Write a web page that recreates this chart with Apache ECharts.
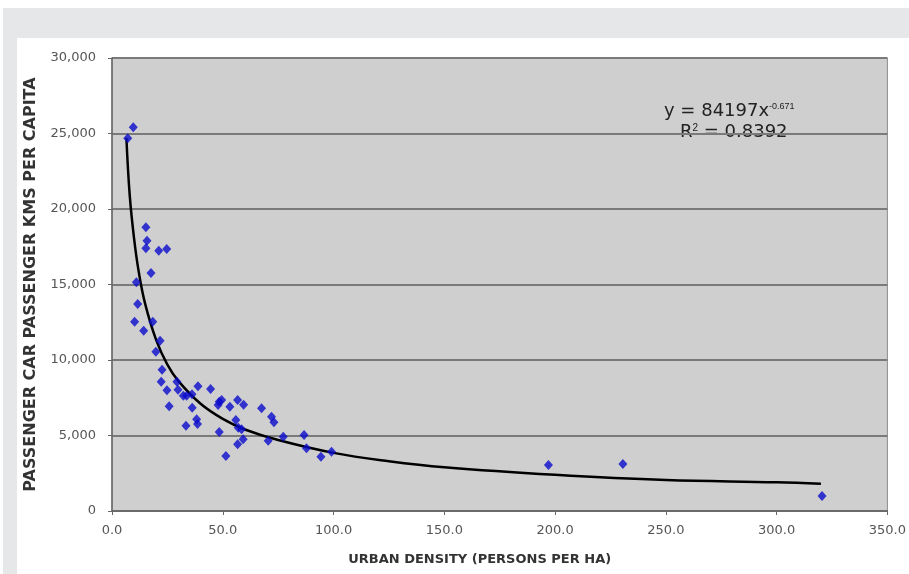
<!DOCTYPE html>
<html>
<head>
<meta charset="utf-8">
<script src="https://cdn.jsdelivr.net/npm/echarts@6/dist/echarts.min.js"></script>
<style>
  html, body { margin: 0; padding: 0; background: #fff; }
  #chart { width: 909px; height: 574px; }
</style>
</head>
<body>
<div id="chart"></div>
<script>
// urban density (persons per ha) vs passenger car kms per capita
const density = [7.1, 9.6, 15.3, 15.8, 15.3, 21.1, 24.7, 17.6, 11.0, 11.6,
  10.2, 18.4, 14.3, 21.7, 19.8, 22.6, 22.2, 24.8, 29.3, 29.8,
  32.2, 33.7, 36.1, 38.8, 25.8, 36.2, 38.2, 38.6, 33.4, 44.5,
  48.4, 49.5, 47.9, 53.2, 56.7, 59.4, 48.4, 51.4, 55.9, 57.0,
  58.5, 59.2, 56.7, 67.5, 72.0, 73.1, 70.5, 77.3, 86.7, 87.8,
  94.3, 99.1, 197.0, 230.6, 320.5];
const carKms = [24680, 25410, 18790, 17900, 17400, 17240, 17350, 15760, 15150, 13710,
  12540, 12540, 11940, 11280, 10550, 9360, 8560, 7990, 8560, 8030,
  7640, 7640, 7730, 8260, 6930, 6840, 6070, 5760, 5650, 8080,
  7240, 7350, 7020, 6910, 7350, 7040, 5230, 3640, 6030, 5520,
  5410, 4750, 4420, 6800, 6250, 5870, 4660, 4920, 5030, 4150,
  3600, 3930, 3050, 3110, 990];

// power trendline as drawn on the picture
const trendX = [6.5, 8, 10, 12, 15, 20, 25, 30, 40, 50, 60, 75, 100, 125, 150, 200, 250, 300, 320];
const trendY = [24700, 20900, 18000, 15900, 13700, 11300, 9700, 8600, 7100, 6100, 5400, 4700, 3850, 3300, 2900, 2400, 2050, 1900, 1800];

const xTitle = 'URBAN DENSITY (PERSONS PER HA)';
const yTitle = 'PASSENGER CAR PASSENGER KMS PER CAPITA';

const chart = echarts.init(document.getElementById('chart'), null, { renderer: 'canvas' });

const option = {
  animation: false,
  backgroundColor: '#fff',
  textStyle: { fontFamily: 'DejaVu Sans' },
  graphic: [
    { type: 'rect', left: 3, top: 8, shape: { width: 906, height: 30 }, style: { fill: '#e6e7e8' }, z: -10 },
    { type: 'rect', left: 3, top: 8, shape: { width: 14, height: 566 }, style: { fill: '#e6e7e8' }, z: -10 },
    {
      type: 'text', left: 664, top: 102,
      style: {
        text: '{a|y = 84197x}{s|-0.671}',
        rich: {
          a: { fontSize: 18, fill: '#222', fontFamily: 'DejaVu Sans' },
          s: { fontSize: 9, fill: '#222', padding: [0, 0, 9, 0] }
        }
      }
    },
    {
      type: 'text', left: 680, top: 123,
      style: {
        text: '{a|R}{s|2}{a| = 0.8392}',
        rich: {
          a: { fontSize: 18, fill: '#222', fontFamily: 'DejaVu Sans' },
          s: { fontSize: 10, fill: '#222', padding: [0, 0, 7, 0] }
        }
      }
    }
  ],
  grid: {
    left: 112, top: 58, right: 21, bottom: 63,
    show: true,
    backgroundColor: '#cfcfcf',
    borderColor: '#8c8c8c',
    borderWidth: 1
  },
  xAxis: {
    type: 'value',
    min: 0, max: 350, interval: 50,
    name: xTitle,
    nameLocation: 'middle',
    nameGap: 42,
    nameTextStyle: { fontWeight: 'bold', fontSize: 13, color: '#333', padding: [0, 40, 0, 0] },
    axisLine: { show: true, lineStyle: { color: '#666', width: 1.5 } },
    axisTick: { show: true, length: 4, lineStyle: { color: '#666' } },
    axisLabel: { color: '#555', fontSize: 13, margin: 13, formatter: v => v.toFixed(1) },
    splitLine: { show: false }
  },
  yAxis: {
    type: 'value',
    min: 0, max: 30000, interval: 5000,
    name: yTitle,
    nameLocation: 'middle',
    nameGap: 73,
    nameTextStyle: { fontWeight: 'bold', fontSize: 16, color: '#333' },
    axisLine: { show: true, lineStyle: { color: '#666', width: 1.5 } },
    axisTick: { show: true, length: 4, lineStyle: { color: '#666' } },
    axisLabel: { color: '#555', fontSize: 13, margin: 16, formatter: v => v.toLocaleString('en-US') },
    splitLine: { show: true, lineStyle: { color: '#7a7a7a', width: 2 } }
  },
  series: [
    {
      type: 'line',
      data: trendX.map((x, i) => [x, trendY[i]]),
      smooth: 0.4,
      showSymbol: false,
      lineStyle: { color: '#000', width: 2.5 },
      z: 2
    },
    {
      type: 'scatter',
      data: density.map((x, i) => [x, carKms[i]]),
      symbol: 'diamond',
      symbolSize: [9, 10],
      itemStyle: { color: '#0a0acc' },
      z: 3
    }
  ]
};

chart.setOption(option);
</script>
</body>
</html>
